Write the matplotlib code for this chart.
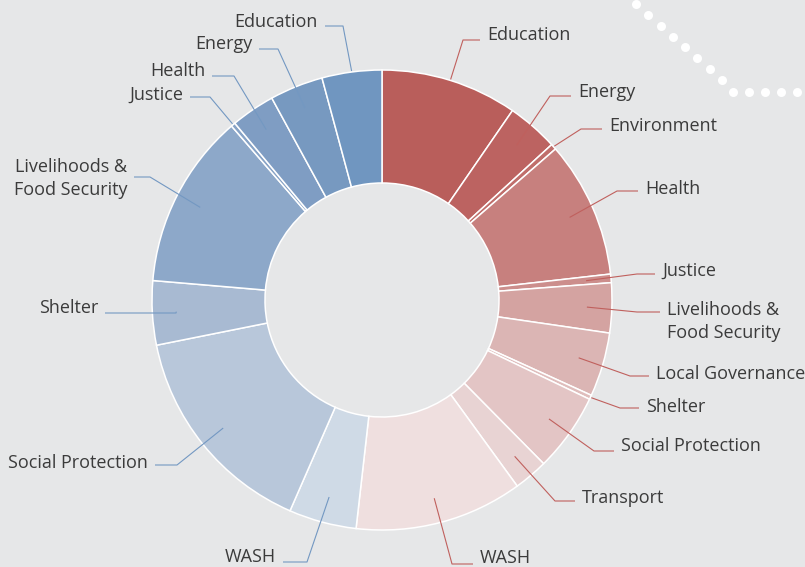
import matplotlib
matplotlib.use("Agg")
import matplotlib.pyplot as plt
import numpy as np

# ---------------- data (share of the circle, %) ----------------
red_labels = ["Education", "Energy", "Environment", "Health", "Justice",
              "Livelihoods &\nFood Security", "Local Governance", "Shelter",
              "Social Protection", "Transport", "WASH"]
red_values = [9.6, 3.6, 0.4, 9.6, 0.6, 3.5, 4.5, 0.3, 5.5, 2.4, 11.8]

blue_labels = ["Education", "Energy", "Health", "Justice",
               "Livelihoods &\nFood Security", "Shelter", "Social Protection", "WASH"]
blue_values = [4.2, 3.75, 3.1, 0.3, 12.3, 4.5, 15.3, 4.75]

red_colors = ["#b95e5b", "#bc6361", "#c06e6b", "#c7807e", "#cc8e8c", "#d4a3a1",
              "#dbb5b4", "#dfbdbc", "#e3c5c5", "#e8d3d3", "#efdfdf"]
blue_colors = ["#7096c0", "#7799c0", "#7f9dc3", "#87a3c6", "#8da8c9",
               "#a8bad2", "#b8c7da", "#cfdae6"]

# ---------------- layout (pixel coordinates, y downward) ----------------
W, H = 805, 567
CX, CY = 382, 300
R_OUT, R_IN = 230, 117
BG = "#e6e7e8"
TXT = "#3b3b3b"
RED_LINE = "#c0605d"
BLUE_LINE = "#7398c2"

# anchor radius, elbow (x, y), text x, text baseline y (last line)
red_layout = [
    (231, (463, 40), 487, 40),
    (205, (550, 96), 578, 97),
    (231, (581, 129), 609, 131),
    (205, (617, 191), 645, 194),
    (205, (637, 274), 662, 276),
    (205, (637, 312), 667, 338),
    (205, (630, 376), 656, 379),
    (231, (620, 408), 646, 412),
    (205, (594, 451), 621, 451),
    (205, (555, 501), 582, 503),
    (205, (452, 564), 480, 563),
]
blue_layout = [
    (231, (343, 26), 318, 27),
    (207, (278, 49), 252, 49),
    (206, (234, 76), 205, 76),
    (231, (210, 97), 183, 100),
    (204, (150, 177), 127, 195),
    (206, (176, 313), 98, 313),
    (204, (177, 465), 148, 468),
    (204, (307, 562), 276, 562),
]


def fy(y):
    return H - y


fig = plt.figure(figsize=(W / 100, H / 100), dpi=100)
fig.patch.set_facecolor(BG)
ax = fig.add_axes([0, 0, 1, 1])
ax.set_facecolor(BG)

values = red_values + blue_values[::-1]
colors = red_colors + blue_colors[::-1]
wedges, _ = ax.pie(values, colors=colors, startangle=90, counterclock=False,
                   center=(CX, fy(CY)), radius=R_OUT,
                   wedgeprops=dict(width=R_OUT - R_IN, edgecolor="white", linewidth=1.1))

red_wedges = wedges[:len(red_values)]
blue_wedges = wedges[len(red_values):][::-1]


def draw_labels(ws, labels, layout, color, side):
    for w, lab, (ra, (ex, ey), tx, ty) in zip(ws, labels, layout):
        mid = np.deg2rad((w.theta1 + w.theta2) / 2)
        ax_ = CX + ra * np.cos(mid)
        ay_ = CY - ra * np.sin(mid)
        hx = tx - 7 if side == "right" else tx + 7
        ax.plot([ax_, ex, hx], [fy(ay_), fy(ey), fy(ey)], color=color, lw=0.8,
                solid_capstyle="butt", zorder=5)
        ax.text(tx, fy(ty), lab, ha="left" if side == "right" else "right",
                va="baseline", fontsize=13, family="Open Sans", color=TXT,
                linespacing=1.38, multialignment="left" if side == "right" else "right")


draw_labels(red_wedges, red_labels, red_layout, RED_LINE, "right")
draw_labels(blue_wedges, blue_labels, blue_layout, BLUE_LINE, "left")

# decorative dotted line (top right)
dx1 = np.linspace(636, 722, 8)
dy1 = np.linspace(4, 80, 8)
dx2 = np.linspace(733, 797, 5)
dy2 = np.full(5, 92)
ax.plot(np.r_[dx1, dx2], fy(np.r_[dy1, dy2]), "o", color="white", ms=6.5, mec="none")

ax.set_xlim(0, W)
ax.set_ylim(0, H)
ax.set_aspect("equal")
ax.axis("off")
fig.savefig("out.png", dpi=100, facecolor=BG)
